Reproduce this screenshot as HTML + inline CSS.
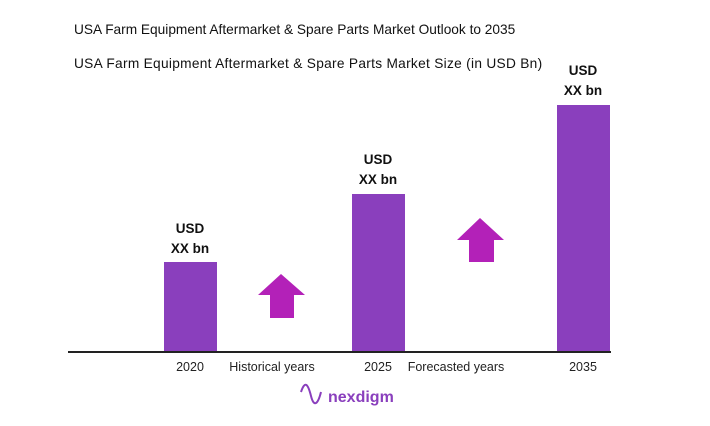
<!DOCTYPE html>
<html><head><style>
body{margin:0;width:710px;height:426px;background:#fff;overflow:hidden;font-family:"Liberation Sans",sans-serif;position:relative}
.t{position:absolute;color:#111;font-size:13.7px;white-space:nowrap}
.bar{position:absolute;background:#8a3fbd}
.lb{position:absolute;font-weight:bold;font-size:13.5px;text-align:center;width:80px;line-height:20px;color:#111}
.x{position:absolute;font-size:12.5px;color:#222;text-align:center;width:120px}
</style></head><body>
<div class="t" style="left:74px;top:22px">USA Farm Equipment Aftermarket &amp; Spare Parts Market Outlook to 2035</div>
<div class="t" style="left:74px;top:56px;letter-spacing:0.3px">USA Farm Equipment Aftermarket &amp; Spare Parts Market Size (in USD Bn)</div>
<div class="bar" style="left:164px;top:262px;width:53px;height:90px"></div>
<div class="bar" style="left:352px;top:194px;width:53px;height:158px"></div>
<div class="bar" style="left:557px;top:105px;width:53px;height:247px"></div>
<div class="lb" style="left:150px;top:219px">USD<br>XX bn</div>
<div class="lb" style="left:338px;top:150px">USD<br>XX bn</div>
<div class="lb" style="left:543px;top:61px">USD<br>XX bn</div>
<div style="position:absolute;left:68px;top:351px;width:543px;height:2px;background:#222"></div>
<svg style="position:absolute;left:0;top:0" width="710" height="426">
<polygon points="281,274 305,295 294,295 294,318 270,318 270,295 258,295" fill="#b321b8"/>
<polygon points="480,218 504,240 494,240 494,262 469,262 469,240 457,240" fill="#b321b8"/>
<path d="M301,392 C305,380 308,384 311,396 C314,408 318,404 321,392" stroke="#8a3fbd" stroke-width="2" fill="none"/>
</svg>
<div class="x" style="left:130px;top:360px">2020</div>
<div class="x" style="left:212px;top:360px">Historical years</div>
<div class="x" style="left:318px;top:360px">2025</div>
<div class="x" style="left:396px;top:360px">Forecasted years</div>
<div class="x" style="left:523px;top:360px">2035</div>
<div style="position:absolute;left:328px;top:389px;font-size:16px;font-weight:bold;color:#8a3fbd">nexdigm</div>
</body></html>
